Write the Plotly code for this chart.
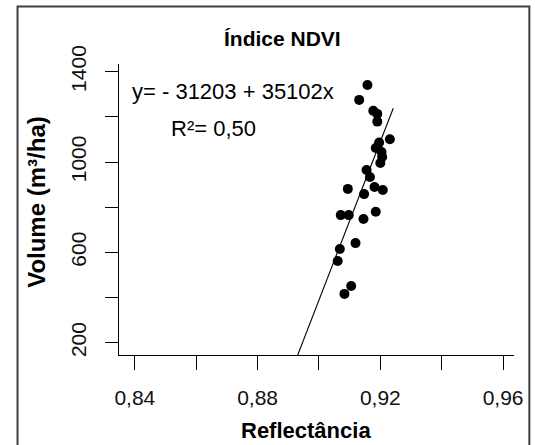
import plotly.graph_objects as go

# Observed NDVI reflectance and stand volume per plot
reflectance = [0.9158, 0.9131, 0.9177, 0.9190, 0.9190, 0.9231, 0.9196, 0.9185,
               0.9204, 0.9206, 0.9200, 0.9155, 0.9166, 0.9094, 0.9181, 0.9208,
               0.9147, 0.9071, 0.9097, 0.9145, 0.9185, 0.9119, 0.9068, 0.9061,
               0.9105, 0.9083]
volume = [1341, 1275, 1227, 1213, 1179, 1101, 1086, 1062,
          1044, 1022, 996, 965, 934, 881, 889, 876,
          858, 765, 765, 748, 780, 641, 615, 562,
          451, 416]

# Fitted linear model y = a + b*x
intercept = -31203
slope = 35102
r_squared = "0,50"
fit_x = [0.890, 0.9242]
fit_y = [intercept + slope * x for x in fit_x]

x_ticks = [0.84, 0.86, 0.88, 0.90, 0.92, 0.94, 0.96]
x_labels = ["0,84", "", "0,88", "", "0,92", "", "0,96"]
y_ticks = [200, 400, 600, 800, 1000, 1200, 1400]
y_labels = ["200", "", "600", "", "1000", "", "1400"]

W, H = 535, 445
L, R, T, B = 119, 518, 64, 355  # plot area in pixels


def px(x):
    return (x - L) / (R - L)


def py(y):
    return (B - y) / (B - T)


FONT = "Liberation Sans, Arial, sans-serif"

fig = go.Figure()
fig.add_trace(go.Scatter(
    x=fit_x, y=fit_y, mode="lines",
    line=dict(color="black", width=1.1), hoverinfo="skip", showlegend=False,
))
fig.add_trace(go.Scatter(
    x=reflectance, y=volume, mode="markers",
    marker=dict(color="black", size=10, line=dict(width=0)), showlegend=False,
))

fig.update_layout(
    width=W, height=H,
    margin=dict(l=L, r=W - R, t=T, b=H - B),
    paper_bgcolor="white", plot_bgcolor="white",
    font=dict(family=FONT, color="black", size=20),
    xaxis=dict(
        range=[0.84 - 16 / 3100, 0.96 + 11 / 3100],
        tickvals=x_ticks, ticktext=x_labels,
        showgrid=False, zeroline=False,
        showline=True, linecolor="black", linewidth=1.3,
        ticks="outside", ticklen=14, tickwidth=1.3, tickcolor="black",
        ticklabelstandoff=10,
        tickfont=dict(size=21, color="#111"),
    ),
    yaxis=dict(
        range=[145.5, 1434],
        tickvals=y_ticks, ticktext=y_labels, tickangle=-90,
        showgrid=False, zeroline=False,
        showline=True, linecolor="black", linewidth=1.3,
        ticks="outside", ticklen=13, tickwidth=1.3, tickcolor="black",
        ticklabelstandoff=10,
        tickfont=dict(size=21, color="#111"),
    ),
)

annotations = [
    dict(text="<b>Índice NDVI</b>", x=px(284), y=py(38), size=21),
    dict(text="<b>Reflectância</b>", x=px(307.5), y=py(430), size=22),
    dict(text="<b>Volume (m³/ha)</b>", x=px(35), y=py(202), size=24, angle=-90),
    dict(text=f"y= - {abs(intercept)} + {slope}x", x=px(234), y=py(91), size=22),
    dict(text=f"R²= {r_squared}", x=px(214.5), y=py(128), size=22),
]
for a in annotations:
    fig.add_annotation(
        text=a["text"], x=a["x"], y=a["y"], xref="paper", yref="paper",
        xanchor="center", yanchor="middle", showarrow=False,
        textangle=a.get("angle", 0),
        font=dict(family=FONT, size=a["size"], color="black"),
    )

# Outer figure frame
fig.add_shape(
    type="rect", xref="paper", yref="paper",
    x0=px(16.5), x1=px(533.5), y0=py(460), y1=py(6.5),
    line=dict(color="#404040", width=2), fillcolor="rgba(0,0,0,0)",
)

fig.write_html("out.html")
